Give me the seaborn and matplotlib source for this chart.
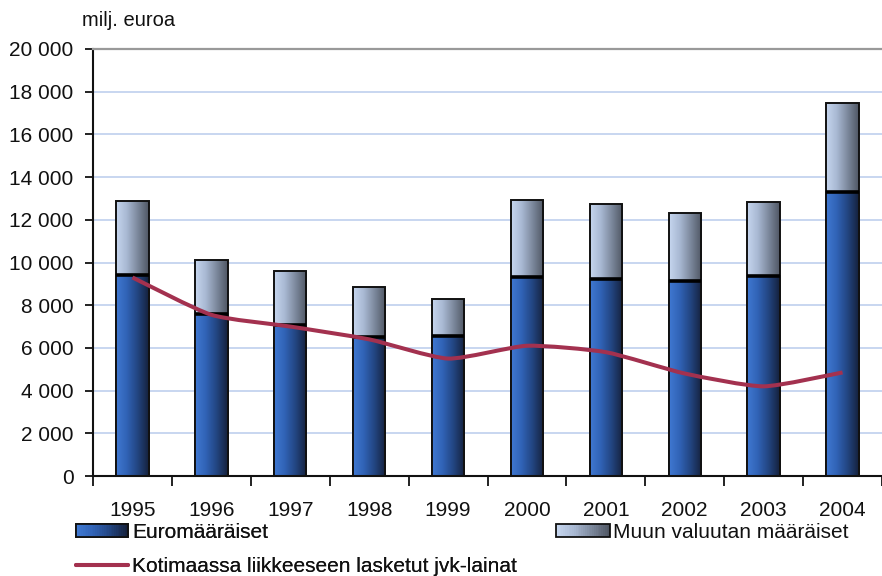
import numpy as np
import pandas as pd
import matplotlib
matplotlib.use("Agg")
import matplotlib.pyplot as plt
import seaborn as sns
from matplotlib.colors import LinearSegmentedColormap
from matplotlib.legend_handler import HandlerBase
from matplotlib.patches import Rectangle, PathPatch
from matplotlib.lines import Line2D
from matplotlib.path import Path
from matplotlib.ticker import FuncFormatter, MultipleLocator

# Data (million euro)
years = ["1995", "1996", "1997", "1998", "1999", "2000", "2001", "2002", "2003", "2004"]
euro_issues = [9400, 7600, 7050, 6500, 6550, 9300, 9250, 9150, 9350, 13300]
total_issues = [12900, 10100, 9600, 8850, 8280, 12950, 12750, 12300, 12850, 17450]
domestic_loans = [9300, 7550, 7000, 6400, 5500, 6100, 5800, 4800, 4200, 4850]

label_euro = "Euromääräiset"
label_other = "Muun valuutan määräiset"
label_domestic = "Kotimaassa liikkeeseen lasketut jvk-lainat"
unit_label = "milj. euroa"

euro_colors = ["#4079d2", "#3062b5", "#22447f", "#15213c"]
other_colors = ["#c6d6ef", "#a8b8d2", "#7b879b", "#4f5663"]
line_color = "#a3314f"
grid_color = "#c8d6f0"

sns.set_theme(style="white")
plt.rcParams["font.family"] = ["Liberation Sans", "DejaVu Sans"]

fig = plt.figure(figsize=(8.82, 5.76), dpi=100)
ax = fig.add_axes([93 / 882, 100 / 576, 1 - 93 / 882, 427 / 576])

df = pd.DataFrame({"year": years, "euro": euro_issues, "total": total_issues})


def gradient_fill(patch, colors, z):
    cmap = LinearSegmentedColormap.from_list("bar", colors)
    x, y = patch.get_x(), patch.get_y()
    w, h = patch.get_width(), patch.get_height()
    grad = np.linspace(0, 1, 256).reshape(1, -1)
    im = ax.imshow(grad, cmap=cmap, extent=[x, x + w, y, y + h], aspect="auto",
                   origin="lower", interpolation="bilinear", zorder=z)
    im.set_clip_path(patch)
    patch.set_facecolor("none")
    patch.set_zorder(z + 0.05)


# Upper (other currency) part: full-height bars, overlaid by the euro part
n0 = len(ax.patches)
sns.barplot(data=df, x="year", y="total", color=other_colors[1], width=0.41,
            saturation=1, edgecolor="#111111", linewidth=1.4, ax=ax)
other_patches = ax.patches[n0:]
n1 = len(ax.patches)
sns.barplot(data=df, x="year", y="euro", color=euro_colors[1], width=0.41,
            saturation=1, edgecolor="#111111", linewidth=1.4, ax=ax)
euro_patches = ax.patches[n1:]

for p in other_patches:
    gradient_fill(p, other_colors, 2.0)
for p in euro_patches:
    gradient_fill(p, euro_colors, 2.2)
    ax.plot([p.get_x(), p.get_x() + p.get_width()], [p.get_height()] * 2,
            color="black", lw=2.6, solid_capstyle="butt", zorder=2.4)

# Lightly smoothed line through the yearly values (cubic Bezier segments)
pts = np.column_stack([np.arange(len(domestic_loans)), domestic_loans]).astype(float)
smooth = 1 / 10
verts = [tuple(pts[0])]
codes = [Path.MOVETO]
for i in range(len(pts) - 1):
    p_prev = pts[i - 1] if i > 0 else pts[i]
    p_next2 = pts[i + 2] if i + 2 < len(pts) else pts[i + 1]
    c1 = pts[i] + (pts[i + 1] - p_prev) * smooth
    c2 = pts[i + 1] - (p_next2 - pts[i]) * smooth
    verts += [tuple(c1), tuple(c2), tuple(pts[i + 1])]
    codes += [Path.CURVE4] * 3
ax.add_patch(PathPatch(Path(verts, codes), facecolor="none", edgecolor=line_color,
                       lw=2.9, capstyle="butt", joinstyle="round", zorder=3))

# Axes styling
ax.set_xlim(-0.5, -0.5 + (882 - 93) / 80)
ax.set_ylim(0, 20000)
ax.yaxis.set_major_locator(MultipleLocator(2000))
ax.yaxis.set_major_formatter(FuncFormatter(lambda v, _: f"{int(v):,}".replace(",", " ")))
ax.grid(axis="y", color=grid_color, lw=1.4)
ax.set_axisbelow(True)
ax.set_xlabel("")
ax.set_ylabel("")

ax.set_xticks(np.arange(-0.5, len(years), 1.0))
ax.set_xticklabels([])
ax.set_xticks(np.arange(len(years)), minor=True)
ax.set_xticklabels(years, minor=True)
ax.tick_params(axis="x", which="major", direction="out", length=7, width=1.3, color="#111111")
ax.tick_params(axis="x", which="minor", length=0, pad=18, labelsize=15, labelcolor="#111111")
ax.tick_params(axis="y", direction="out", length=6, width=1.3, color="#111111",
               pad=8, labelsize=15, labelcolor="#111111")
ax.tick_params(bottom=True, left=True)

for side in ("left", "bottom"):
    ax.spines[side].set_color("#111111")
    ax.spines[side].set_linewidth(1.5)
ax.spines["right"].set_visible(False)
ax.spines["top"].set_color("#999999")
ax.spines["top"].set_linewidth(1.6)

fig.text(82 / 882, 1 - 21 / 576, unit_label, ha="left", va="center", fontsize=14.5, color="#111111")


class GradientHandler(HandlerBase):
    def __init__(self, colors):
        super().__init__()
        self.colors = colors

    def create_artists(self, legend, orig_handle, xdescent, ydescent, width, height, fontsize, trans):
        cmap = LinearSegmentedColormap.from_list("leg", self.colors)
        n = 30
        arts = []
        for i in range(n):
            arts.append(Rectangle((-xdescent + i * width / n, -ydescent), width / n * 1.05, height,
                                  facecolor=cmap(i / (n - 1)), edgecolor="none", transform=trans))
        arts.append(Rectangle((-xdescent, -ydescent), width, height, facecolor="none",
                              edgecolor="#111111", lw=1.3, transform=trans))
        return arts


euro_handle = Rectangle((0, 0), 1, 1)
other_handle = Rectangle((0, 0), 1, 1)
line_handle = Line2D([], [], color=line_color, lw=2.9)

leg1 = fig.legend([euro_handle, line_handle], [label_euro, label_domestic],
                  handler_map={euro_handle: GradientHandler(euro_colors)},
                  loc="upper left", bbox_to_anchor=(76 / 882, 1 - 523 / 576),
                  frameon=False, fontsize=15, handlelength=2.5, handleheight=0.62,
                  handletextpad=0.2, labelspacing=0.74, borderpad=0, borderaxespad=0,
                  labelcolor="#111111")
leg2 = fig.legend([other_handle], [label_other],
                  handler_map={other_handle: GradientHandler(other_colors)},
                  loc="upper left", bbox_to_anchor=(556 / 882, 1 - 523 / 576),
                  frameon=False, fontsize=15, handlelength=2.6, handleheight=0.62,
                  handletextpad=0.15, borderpad=0, borderaxespad=0, labelcolor="#111111")
fig.add_artist(leg1)

fig.savefig("out.png", dpi=100)
